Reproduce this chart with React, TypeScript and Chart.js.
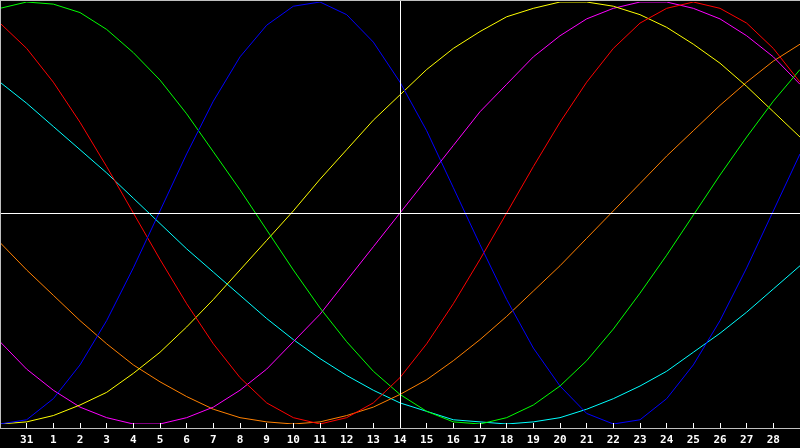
import React, { useEffect, useRef } from "react";
import { Chart, registerables } from "chart.js";

Chart.register(...registerables);

// Day labels along the bottom (first and last positions are unlabeled edge days)
const dayLabels: string[] = [
  "", "31", "1", "2", "3", "4", "5", "6", "7", "8", "9", "10", "11", "12", "13",
  "14", "15", "16", "17", "18", "19", "20", "21", "22", "23", "24", "25", "26",
  "27", "28", "",
];

const todayIndex = 15; // the "14" column with the vertical white line

// Cycle values in percent (-100..100), one per day
const blueValues = [
  -100, -98, -88, -72, -51, -26, 1, 28, 53, 74, 89, 98, 100, 94, 81, 62, 39, 12,
  -15, -41, -64, -82, -95, -100, -98, -88, -72, -51, -26, 1, 28,
];
const redValues = [
  90, 78, 62, 43, 22, 0, -22, -43, -62, -78, -90, -97, -100, -97, -90, -78, -62,
  -43, -22, 0, 22, 43, 62, 78, 90, 97, 100, 97, 90, 78, 62,
];
const greenValues = [
  97, 100, 99, 95, 87, 76, 63, 47, 29, 11, -8, -27, -45, -61, -75, -86, -94, -99,
  -100, -97, -91, -82, -70, -55, -38, -20, -1, 18, 36, 53, 68,
];
const magentaValues = [
  -61, -74, -84, -92, -97, -100, -100, -97, -92, -84, -74, -61, -48, -32, -16, 0,
  16, 32, 48, 61, 74, 84, 92, 97, 100, 100, 97, 92, 84, 74, 61,
];
const yellowValues = [
  -100, -99, -96, -91, -85, -76, -66, -54, -41, -27, -13, 1, 16, 30, 44, 56, 68,
  78, 86, 93, 97, 100, 100, 98, 94, 88, 80, 71, 60, 48, 36,
];
const orangeValues = [
  -14, -27, -39, -51, -62, -72, -80, -87, -93, -97, -99, -100, -99, -96, -92, -86,
  -79, -70, -60, -49, -37, -25, -12, 1, 14, 27, 39, 51, 62, 72, 80,
];
const cyanValues = [
  62, 52, 41, 30, 19, 7, -5, -17, -28, -39, -50, -60, -69, -77, -84, -90, -94,
  -98, -99, -100, -99, -97, -93, -88, -82, -75, -66, -57, -47, -36, -25,
];

const seriesList = [
  { name: "blue", color: "#0000ff", values: blueValues },
  { name: "red", color: "#ff0000", values: redValues },
  { name: "green", color: "#00ff00", values: greenValues },
  { name: "yellow", color: "#ffff00", values: yellowValues },
  { name: "magenta", color: "#ff00ff", values: magentaValues },
  { name: "orange", color: "#ff8000", values: orangeValues },
  { name: "cyan", color: "#00ffff", values: cyanValues },
];

const decorPlugin = {
  id: "bioDecor",
  afterDatasetsDraw(chart: any) {
    const { ctx, scales, width } = chart;
    const xs = scales.x;
    const ys = scales.y;
    const axisY = 428;
    ctx.save();
    // midline
    const midY = Math.round(ys.getPixelForValue(0)) + 0.5;
    ctx.strokeStyle = "#ffffff";
    ctx.lineWidth = 1;
    ctx.beginPath();
    ctx.moveTo(0, midY);
    ctx.lineTo(width, midY);
    ctx.stroke();
    // today line
    const tx = Math.round(xs.getPixelForValue(todayIndex)) + 0.5;
    ctx.beginPath();
    ctx.moveTo(tx, 0);
    ctx.lineTo(tx, axisY);
    ctx.stroke();
    // frame
    ctx.strokeStyle = "#c0c0c0";
    ctx.beginPath();
    ctx.moveTo(0, 0.5);
    ctx.lineTo(width, 0.5);
    ctx.moveTo(0.5, 0);
    ctx.lineTo(0.5, axisY + 1);
    ctx.moveTo(0, axisY + 0.5);
    ctx.lineTo(width, axisY + 0.5);
    ctx.stroke();
    // ticks and labels
    ctx.strokeStyle = "#ffffff";
    ctx.fillStyle = "#ffffff";
    ctx.font = "bold 11px 'DejaVu Sans Mono', monospace";
    ctx.textAlign = "center";
    ctx.textBaseline = "alphabetic";
    dayLabels.forEach((lab, i) => {
      if (!lab) return;
      const x = Math.floor(xs.getPixelForValue(i)) + 0.5;
      ctx.beginPath();
      ctx.moveTo(x, axisY - 5);
      ctx.lineTo(x, axisY);
      ctx.stroke();
      ctx.fillText(lab, xs.getPixelForValue(i), 443);
    });
    ctx.restore();
  },
};

export default function App() {
  const ref = useRef<HTMLCanvasElement | null>(null);
  useEffect(() => {
    document.body.style.margin = "0";
    document.body.style.background = "#000";
    const canvas = ref.current;
    if (!canvas) return;
    const chart = new Chart(canvas, {
      type: "line",
      data: {
        labels: dayLabels,
        datasets: seriesList.map((s) => ({
          label: s.name,
          data: s.values,
          borderColor: s.color,
          backgroundColor: s.color,
          borderWidth: 1,
          pointRadius: 0,
          tension: 0,
          fill: false,
        })),
      },
      options: {
        animation: false,
        responsive: false,
        devicePixelRatio: 1,
        layout: { padding: { left: 0, right: 0, top: 2, bottom: 24 } },
        scales: {
          x: { display: false, offset: false },
          y: { display: false, min: -100, max: 100 },
        },
        plugins: {
          legend: { display: false },
          tooltip: { enabled: false },
        },
      },
      plugins: [decorPlugin],
    });
    return () => chart.destroy();
  }, []);
  return (
    <div
      style={{
        position: "fixed",
        left: 0,
        top: 0,
        width: 800,
        height: 448,
        background: "#000",
      }}
    >
      <canvas ref={ref} width={800} height={448} style={{ display: "block" }} />
    </div>
  );
}
